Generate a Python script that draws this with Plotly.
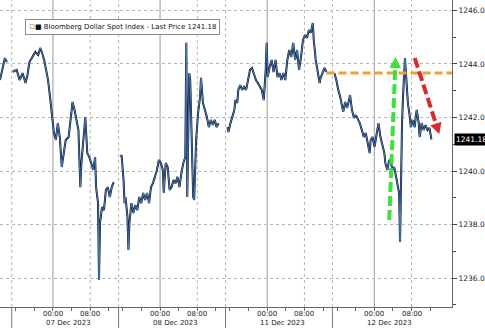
import plotly.graph_objects as go

# ---- data: hours from 07 Dec 2023 00:00 (session hours, 23h per trading day) ----
hours_a = [-11.37, -10.74, -10.32, -9.89]
price_a = [1243.40, 1243.93, 1244.22, 1244.07]

hours_b = [-8.63, -7.79, -7.16, -6.53, -5.89, -5.47, -5.05, -4.42, -3.79, -3.16, -2.74, -2.32,
           -1.89, -1.47, -1.05, -0.63, -0.21, 0.21, 0.63, 1.05, 1.47, 1.89, 2.32, 2.74, 3.37,
           3.79, 4.21, 4.63, 5.05, 5.47, 5.68, 5.89, 6.11, 6.53, 6.95, 7.37, 7.79, 8.21, 8.63,
           9.05, 9.26, 9.68, 9.89, 10.11, 10.53, 10.95, 11.37, 11.79, 12.21, 12.63, 13.05]
price_b = [1243.71, 1243.78, 1243.40, 1243.66, 1243.29, 1243.59, 1244.07, 1244.26, 1244.45,
           1244.34, 1244.60, 1244.41, 1244.15, 1243.78, 1243.40, 1242.77, 1242.02, 1241.42,
           1241.16, 1241.79, 1241.27, 1240.15, 1240.67, 1241.16, 1241.27, 1242.02, 1242.58,
           1242.28, 1241.91, 1241.53, 1240.41, 1239.40, 1240.30, 1241.16, 1242.02, 1240.67,
           1240.52, 1240.30, 1240.04, 1240.52, 1239.40, 1238.80, 1235.93, 1238.06, 1238.65,
           1238.54, 1239.29, 1239.40, 1239.03, 1239.40, 1239.59]

hours_c = [14.53, 14.74, 15.16, 15.37, 15.58, 16.00, 16.21, 16.42, 16.84, 17.26, 17.68, 18.11,
           18.53, 18.95, 19.37, 19.79, 20.21, 20.63, 21.05, 21.47, 21.89, 22.32, 22.74, 23.16,
           23.58, 23.79, 24.21, 24.63, 25.05, 25.47, 25.89, 26.32, 26.74, 27.16, 27.58, 28.00,
           28.42, 28.63, 28.84, 29.05, 29.26, 29.47, 29.68, 29.89, 30.11, 30.32, 30.53, 30.74,
           31.16, 31.58, 31.79, 32.21, 32.63, 33.05, 33.47, 33.89, 34.32, 34.74, 35.16, 35.58]
price_c = [1240.52, 1240.60, 1239.66, 1238.80, 1239.03, 1238.28, 1237.05, 1238.06, 1238.80,
           1238.43, 1238.73, 1238.54, 1239.03, 1238.80, 1239.18, 1238.92, 1239.18, 1238.80,
           1239.40, 1239.55, 1239.78, 1240.04, 1240.41, 1240.30, 1240.04, 1239.18, 1240.30,
           1240.15, 1239.29, 1239.40, 1239.66, 1239.55, 1239.78, 1239.40, 1239.93, 1240.30,
           1240.52, 1244.79, 1239.03, 1242.77, 1243.66, 1243.40, 1241.79, 1240.52, 1239.03,
           1238.92, 1240.30, 1241.16, 1242.17, 1242.77, 1243.48, 1242.54, 1242.28, 1242.02,
           1241.64, 1241.91, 1241.72, 1241.91, 1241.64, 1241.79]

hours_d = [37.47, 37.68, 38.11, 38.53, 38.95, 39.16, 39.58, 39.79, 40.21, 40.63, 41.05, 41.47,
           41.89, 42.32, 42.74, 43.16, 43.58, 44.00, 44.42, 44.84, 45.26, 45.47, 45.68, 45.89,
           46.11, 46.53, 46.95, 47.37, 47.79, 48.21, 48.63, 49.05, 49.47, 49.89, 50.32, 50.74,
           51.16, 51.58, 52.00, 52.42, 52.84, 53.26, 53.68, 54.11, 54.53, 54.95, 55.37, 55.79,
           56.00, 56.42, 56.84, 57.26, 57.47, 57.89, 58.32, 58.74]
price_d = [1241.64, 1241.46, 1241.79, 1242.02, 1242.28, 1242.65, 1242.54, 1243.03, 1243.21,
           1243.03, 1243.14, 1243.03, 1243.40, 1243.78, 1243.85, 1243.66, 1243.40, 1243.29,
           1243.14, 1243.03, 1242.65, 1243.14, 1243.78, 1244.79, 1243.51, 1243.89, 1244.15,
           1243.70, 1244.15, 1243.51, 1243.66, 1243.40, 1243.66, 1243.40, 1244.15, 1244.52,
           1244.26, 1244.79, 1244.15, 1244.52, 1243.78, 1244.26, 1244.90, 1245.08, 1244.97,
           1245.27, 1245.16, 1245.53, 1244.90, 1244.15, 1243.78, 1243.29, 1243.48, 1243.70,
           1243.85, 1243.70]

hours_e = [60.42, 60.84, 61.26, 61.68, 62.11, 62.32, 62.74, 63.16, 63.58, 63.79, 64.21, 64.63,
           65.05, 65.47, 65.89, 66.32, 66.74, 67.16, 67.58, 68.00, 68.21, 68.63, 69.05, 69.47,
           69.89, 70.32, 70.74, 71.16, 71.37, 71.79, 72.21, 72.63, 72.84, 73.26, 73.68, 74.11,
           74.32, 74.53, 74.74, 74.95, 75.16, 75.37, 75.58, 75.79, 76.00, 76.21, 76.63, 76.84,
           77.26, 77.68, 77.89, 78.11, 78.53, 78.74, 79.16, 79.58, 80.00, 80.42, 80.84, 81.26]
price_e = [1243.66, 1243.40, 1243.03, 1242.77, 1242.39, 1242.21, 1242.58, 1242.36, 1242.65,
           1242.84, 1242.28, 1241.98, 1242.09, 1241.91, 1241.79, 1241.53, 1241.27, 1241.42,
           1241.05, 1240.67, 1241.16, 1241.27, 1240.90, 1241.42, 1241.79, 1241.27, 1240.90,
           1240.67, 1240.30, 1240.04, 1240.41, 1240.30, 1240.04, 1240.15, 1239.78, 1239.40,
           1239.18, 1237.35, 1240.90, 1241.79, 1242.77, 1243.66, 1244.22, 1243.66, 1243.03,
           1242.54, 1242.02, 1241.64, 1241.91, 1241.64, 1242.02, 1242.28, 1241.79, 1241.27,
           1241.79, 1241.53, 1241.72, 1241.53, 1241.61, 1241.18]

day_start_hours = [0, 23, 46, 69]
day_labels = ["07 Dec 2023", "08 Dec 2023", "11 Dec 2023", "12 Dec 2023"]
time_labels = ["00:00", "08:00"]
session_break_hours = [-8.85, 14.1, 37.05, 60.0]
last_price = 1241.18
resistance_level = 1243.66
y_ticks = [1236, 1238, 1240, 1242, 1244, 1246]

# ---- figure ----
X_RANGE = [-11.37, 85.68]
Y_RANGE = [1234.92, 1246.39]
PW, PH = 461, 307
FONT = "DejaVu Sans"

def px2h(px):
    return X_RANGE[0] + px / PW * (X_RANGE[1] - X_RANGE[0])

def py2v(py):
    return Y_RANGE[1] - py / PH * (Y_RANGE[1] - Y_RANGE[0])

xs, ys = [], []
for h, p in [(hours_a, price_a), (hours_b, price_b), (hours_c, price_c), (hours_d, price_d), (hours_e, price_e)]:
    xs += h + [None]
    ys += p + [None]

fig = go.Figure()
fig.add_trace(go.Scatter(x=xs, y=ys, mode="lines", line=dict(color="#0b0f1a", width=2.0),
                         hoverinfo="skip", showlegend=False))
fig.add_trace(go.Scatter(x=xs, y=ys, mode="lines", line=dict(color="#4f86cc", width=0.9),
                         showlegend=False))

shapes = []
for h in day_start_hours:
    shapes.append(dict(type="line", xref="x", yref="paper", x0=h, x1=h, y0=0, y1=1,
                       line=dict(color="#9a9a9a", width=1), layer="below"))
    shapes.append(dict(type="line", xref="x", yref="paper", x0=h + 8, x1=h + 8, y0=0, y1=1,
                       line=dict(color="#b5b5b5", width=1, dash="dot"), layer="below"))
for h in session_break_hours:
    shapes.append(dict(type="line", xref="x", yref="paper", x0=h, x1=h, y0=0, y1=1,
                       line=dict(color="#b5b5b5", width=1, dash="dot"), layer="below"))
    shapes.append(dict(type="line", xref="x", yref="paper", x0=h, x1=h, y0=0, y1=-0.08,
                       line=dict(color="#777777", width=1)))

# orange resistance line
shapes.append(dict(type="line", xref="x", yref="y", x0=px2h(333), x1=X_RANGE[1],
                   y0=resistance_level, y1=resistance_level,
                   line=dict(color="#f0a030", width=3, dash="8px,4px")))

def arrow(p0, p1, color, head_len=11, head_w=6):
    (x0, y0), (x1, y1) = p0, p1
    dx, dy = x1 - x0, y1 - y0
    L = (dx * dx + dy * dy) ** 0.5
    ux, uy = dx / L, dy / L
    bx, by = x1 - ux * head_len, y1 - uy * head_len
    nx, ny = -uy, ux
    out = [dict(type="line", xref="x", yref="y", x0=px2h(x0), y0=py2v(y0),
                x1=px2h(bx + ux * 1), y1=py2v(by + uy * 1),
                line=dict(color=color, width=4, dash="10px,4px"))]
    pts = [(x1, y1), (bx + nx * head_w, by + ny * head_w), (bx - nx * head_w, by - ny * head_w)]
    path = "M " + " L ".join(f"{px2h(a)},{py2v(b)}" for a, b in pts) + " Z"
    out.append(dict(type="path", xref="x", yref="y", path=path, fillcolor=color,
                    line=dict(color=color, width=0)))
    return out

shapes += arrow((397, 220), (403.5, 57), "#3ee03e")
shapes += arrow((423, 58), (448, 134), "#d92b2b")

tickvals = []
for d in day_start_hours:
    for o in (-8, -4, 0, 4, 8, 12):
        tickvals.append(d + o)

annotations = []
for h, lab in zip(day_start_hours, day_labels):
    for off, tl in zip((0, 8), time_labels):
        annotations.append(dict(x=h + off, y=0, xref="x", yref="paper", text=tl, showarrow=False,
                                xanchor="center", yanchor="top", yshift=-1,
                                font=dict(size=7, color="#222", family=FONT)))
    annotations.append(dict(x=h, y=0, xref="x", yref="paper", text=lab, showarrow=False,
                            xanchor="left", yanchor="top", xshift=-9, yshift=-10,
                            font=dict(size=7, color="#222", family=FONT)))
annotations.append(dict(x=1, y=last_price, xref="paper", yref="y", text="1241.18", showarrow=False,
                        xanchor="left", yanchor="middle", xshift=2, bgcolor="#000000",
                        font=dict(size=7.5, color="#ffffff", family=FONT), borderpad=1))
annotations.append(dict(x=25 / PW, y=1 - 27 / PH, xref="paper", yref="paper",
                        text='<span style="color:#888">⊡</span>■ Bloomberg Dollar Spot Index - Last Price 1241.18',
                        showarrow=False, xanchor="left", yanchor="middle", bgcolor="#ffffff",
                        bordercolor="#8a8a8a", borderwidth=1, borderpad=3,
                        font=dict(size=7, color="#111", family=FONT)))

fig.update_layout(
    width=485, height=328, margin=dict(l=0, r=24, t=0, b=21),
    paper_bgcolor="#ffffff", plot_bgcolor="#ffffff",
    shapes=shapes, annotations=annotations, showlegend=False,
    xaxis=dict(range=X_RANGE, showgrid=False, zeroline=False, tickmode="array",
               tickvals=tickvals, showticklabels=False, ticks="outside", ticklen=3,
               tickcolor="#666", showline=True, linecolor="#666", linewidth=1),
    yaxis=dict(range=Y_RANGE, side="right", showgrid=True, gridcolor="#b5b5b5", griddash="dot",
               zeroline=False, tickmode="array", tickvals=y_ticks,
               ticktext=[f"{v:.1f}" for v in y_ticks], ticks="outside", ticklen=4,
               tickcolor="#444", showline=True, linecolor="#666", linewidth=1,
               minor=dict(dtick=1, ticks="outside", ticklen=3, tickcolor="#444", showgrid=False),
               tickfont=dict(size=7.5, color="#222", family=FONT)),
)

fig.write_html("out.html")
